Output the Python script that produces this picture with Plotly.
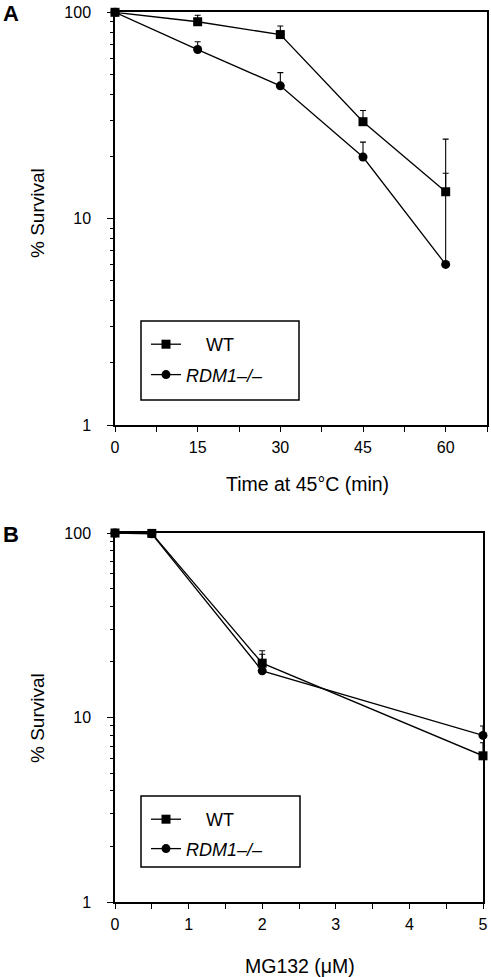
import plotly.graph_objects as go

# ---- data ----
heat_time = [0, 15, 30, 45, 60]
heat_wt = [100, 90, 78, 29.5, 13.5]
heat_wt_err = [13, 6.7, 7.8, 3.9, 10.8]
heat_rdm = [100, 66, 44, 19.9, 6.0]
heat_rdm_err = [8, 6, 7, 3.6, 10.6]

mg_dose = [0, 0.5, 2, 5]
mg_wt = [100, 99.5, 19.7, 6.2]
mg_wt_err = [0, 0, 3.3, 1.1]
mg_rdm = [100, 99, 17.9, 8.0]
mg_rdm_err = [0, 0, 4.1, 1.0]

heat_ticks = [0, 7.5, 15, 22.5, 30, 37.5, 45, 52.5, 60, 67.5]
heat_ticktext = ["0", "", "15", "", "30", "", "45", "", "60", ""]
mg_ticks = [0, 0.5, 1, 1.5, 2, 2.5, 3, 3.5, 4, 4.5, 5]
mg_ticktext = ["0", "", "1", "", "2", "", "3", "", "4", "", "5"]
y_major = [1, 10, 100]
y_major_text = ["1", "10", "100"]
y_minor = [2, 3, 4, 5, 6, 7, 8, 9, 20, 30, 40, 50, 60, 70, 80, 90]

names = ["\u00a0\u00a0\u00a0\u00a0WT", "<i>RDM1\u2013/\u2013</i>"]

W, H = 491, 977
FONT = "Liberation Sans, Arial, sans-serif"


def px_x(x):
    return x / W


def px_y(y):
    return 1 - y / H


fig = go.Figure()


def add_series(x, y, err, name, symbol, xa, ya, legend, group):
    fig.add_trace(go.Scatter(
        x=x, y=y, name=name, mode="lines+markers",
        xaxis=xa, yaxis=ya, legend=legend, legendgroup=group,
        line=dict(color="black", width=1.3),
        marker=dict(symbol=symbol, size=9, color="black"),
        error_y=dict(type="data", array=err, arrayminus=[0] * len(err),
                     symmetric=False, color="black", thickness=1.1, width=3),
        cliponaxis=False,
    ))


add_series(heat_time, heat_wt, heat_wt_err, names[0], "square", "x", "y", "legend", "a1")
add_series(heat_time, heat_rdm, heat_rdm_err, names[1], "circle", "x", "y", "legend", "a2")
add_series(mg_dose, mg_wt, mg_wt_err, names[0], "square", "x2", "y2", "legend2", "b1")
add_series(mg_dose, mg_rdm, mg_rdm_err, names[1], "circle", "x2", "y2", "legend2", "b2")

xcommon = dict(showline=True, linecolor="black", linewidth=1.5, mirror=True,
               ticks="outside", ticklen=5, tickwidth=1.2, tickcolor="black",
               showgrid=False, zeroline=False, tickmode="array",
               tickfont=dict(family=FONT, size=16, color="black"),
               ticklabelstandoff=2, automargin=False)
ycommon = dict(type="log", range=[0, 2], showline=True, linecolor="black",
               linewidth=1.5, mirror=True, ticks="outside", ticklen=6,
               tickwidth=1.2, tickcolor="black", showgrid=False,
               zeroline=False, tickmode="array", tickvals=y_major,
               ticktext=y_major_text,
               tickfont=dict(family=FONT, size=16, color="black"),
               ticklabelstandoff=13, automargin=False,
               minor=dict(tickmode="array", tickvals=y_minor, ticks="outside",
                          ticklen=3, tickwidth=1, tickcolor="black",
                          showgrid=False))


def ann(text, x, y, size, angle=0):
    return dict(text=text, x=px_x(x), y=px_y(y), xref="paper", yref="paper",
                xanchor="center", yanchor="middle", showarrow=False,
                textangle=angle, font=dict(family=FONT, size=size, color="black"))


fig.update_layout(
    width=W, height=H,
    margin=dict(l=0, r=0, t=0, b=0),
    paper_bgcolor="white", plot_bgcolor="white",
    font=dict(family=FONT, color="black"),
    xaxis=dict(domain=[px_x(115), px_x(487)], range=[0, 67.5], anchor="y",
               tickvals=heat_ticks, ticktext=heat_ticktext, **xcommon),
    yaxis=dict(domain=[px_y(425), px_y(12.3)], anchor="x", **ycommon),
    xaxis2=dict(domain=[px_x(115), px_x(483)], range=[0, 5], anchor="y2",
                tickvals=mg_ticks, ticktext=mg_ticktext, **xcommon),
    yaxis2=dict(domain=[px_y(902), px_y(533)], anchor="x2", **ycommon),
    legend=dict(x=px_x(146), y=px_y(326), xanchor="left", yanchor="top",
                bgcolor="rgba(0,0,0,0)", borderwidth=0,
                font=dict(family=FONT, size=18, color="black"),
                tracegroupgap=4),
    legend2=dict(x=px_x(146), y=px_y(801), xanchor="left", yanchor="top",
                 bgcolor="rgba(0,0,0,0)", borderwidth=0,
                 font=dict(family=FONT, size=18, color="black"),
                 tracegroupgap=3),
    showlegend=True,
    shapes=[
        dict(type="rect", xref="paper", yref="paper",
             x0=px_x(141), x1=px_x(299), y0=px_y(400), y1=px_y(321),
             line=dict(color="black", width=1.5)),
        dict(type="rect", xref="paper", yref="paper",
             x0=px_x(141), x1=px_x(300), y0=px_y(867), y1=px_y(796),
             line=dict(color="black", width=1.5)),
    ],
    annotations=[
        ann("<b>A</b>", 11, 13, 22),
        ann("<b>B</b>", 11, 534, 22),
        ann("% Survival", 37, 213, 19, -90),
        ann("% Survival", 37, 718, 19, -90),
        ann("Time at 45°C (min)", 307, 484, 19.5),
        ann("MG132 (μM)", 300, 966, 19.5),
    ],
)

fig.write_html("out.html", config={"displayModeBar": False},
               post_script="document.body.style.margin='0';")
